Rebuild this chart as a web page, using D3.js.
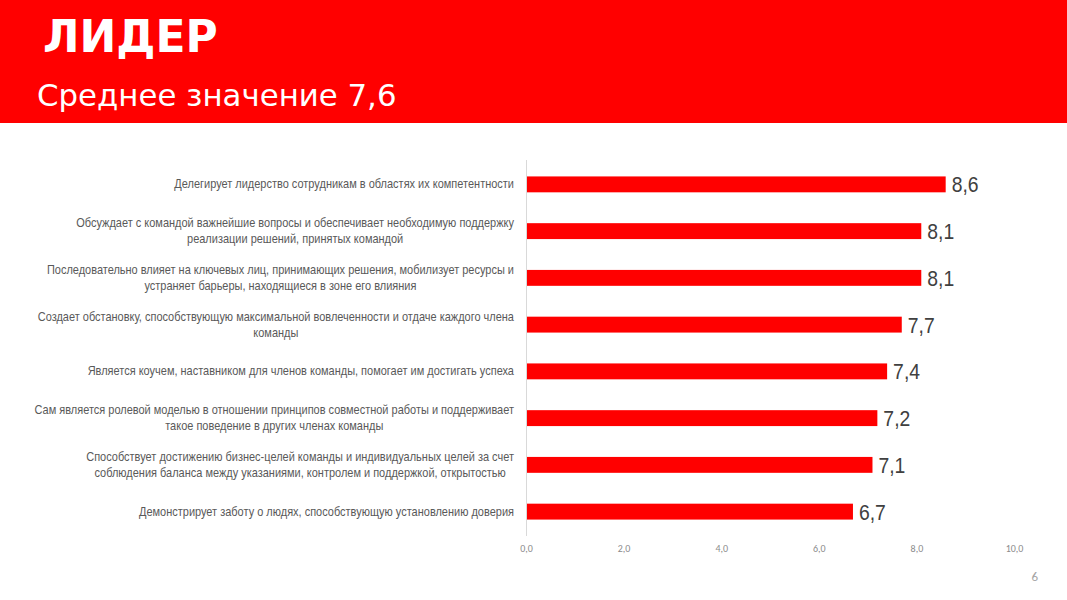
<!DOCTYPE html>
<html><head><meta charset="utf-8">
<script src="https://cdn.jsdelivr.net/npm/d3@7"></script>
<style>body{margin:0;background:#fff}svg{display:block}</style>
</head><body>
<script>
const categories = [
  ["Делегирует лидерство сотрудникам в областях их компетентности"],
  ["Обсуждает с командой важнейшие вопросы и обеспечивает необходимую поддержку", "реализации решений, принятых командой"],
  ["Последовательно влияет на ключевых лиц, принимающих решения, мобилизует ресурсы и", "устраняет барьеры, находящиеся в зоне его влияния"],
  ["Создает обстановку, способствующую максимальной вовлеченности и отдаче каждого члена", "команды"],
  ["Является коучем, наставником для членов команды, помогает им достигать успеха"],
  ["Сам является ролевой моделью в отношении принципов совместной работы и поддерживает", "такое поведение в других членах команды"],
  ["Способствует достижению бизнес-целей команды и индивидуальных целей за счет", "соблюдения баланса между указаниями, контролем и поддержкой, открытостью"],
  ["Демонстрирует заботу о людях, способствующую установлению доверия"]
];
const values = [8.6, 8.1, 8.1, 7.7, 7.4, 7.2, 7.1, 6.7];
const xTicks = [0, 2, 4, 6, 8, 10];
const title = "ЛИДЕР";
const subtitle = "Среднее значение 7,6";
const pageNum = "6";

const W = 1067, H = 600;
const svg = d3.select("body").append("svg").attr("width", W).attr("height", H);

svg.append("rect").attr("x",0).attr("y",0).attr("width",W).attr("height",123).attr("fill","#ff0000");
svg.append("text").attr("x",43).attr("y",52).text(title)
  .attr("fill","#fff").attr("font-family","DejaVu Sans, Verdana, sans-serif").attr("font-weight","bold").attr("font-size",44);
svg.append("text").attr("x",37).attr("y",106).text(subtitle)
  .attr("fill","#fff").attr("font-family","DejaVu Sans, Verdana, sans-serif").attr("font-size",30.8);

const x = d3.scaleLinear().domain([0,10]).range([526,1014]);
const y = d3.scaleBand().domain(d3.range(values.length)).range([161,535]).paddingInner(0.66).paddingOuter(0.33);

const fmt = v => d3.format(".1f")(v).replace(".", ",");
const narrow = "'Liberation Sans Narrow', 'Arial Narrow', 'Liberation Sans', Arial, sans-serif";

// axis line
svg.append("line").attr("x1",x(0)+0.5).attr("x2",x(0)+0.5).attr("y1",160).attr("y2",536)
  .attr("stroke","#d9d9d9").attr("stroke-width",1);

const xAxis = d3.axisBottom(x).tickValues(xTicks).tickSize(0).tickFormat(fmt);
const gx = svg.append("g").attr("transform","translate(0,542)").call(xAxis);
gx.select(".domain").remove();
gx.selectAll("text").attr("fill","#8c8c8c").attr("font-family","Carlito, Calibri, 'Liberation Sans', sans-serif").attr("font-size",10);

svg.append("g").selectAll("rect").data(values).join("rect")
  .attr("x", x(0)+1).attr("y",(d,i)=>y(i)).attr("width",d=>x(d)-x(0)-1).attr("height",y.bandwidth())
  .attr("fill","#ff0000");

svg.append("g").selectAll("text").data(values).join("text")
  .attr("transform",(d,i)=>`translate(${x(d)+6},${y(i)+y.bandwidth()/2+8}) scale(0.88,1)`)
  .text(fmt).attr("fill","#404040")
  .attr("font-family",narrow).attr("font-size",22);

const SX = 0.915;
const lg = svg.append("g");
categories.forEach((lines,i)=>{
  const cy = y(i)+y.bandwidth()/2;
  const n = lines.length, lh = 16;
  const nodes = lines.map((ln,j)=> lg.append("text")
      .attr("text-anchor","middle").text(ln).attr("fill","#595959")
      .attr("font-family",narrow).attr("font-size",12));
  const maxW = d3.max(nodes, t=>t.node().getComputedTextLength()) * SX;
  const cx = 514 - maxW/2;
  nodes.forEach((t,j)=>{
    t.attr("transform",`translate(${cx},${cy + (j-(n-1)/2)*lh + 4}) scale(${SX},1)`);
  });
});

svg.append("text").attr("x",1038).attr("y",581).attr("text-anchor","end").text(pageNum)
  .attr("fill","#a6a6a6").attr("font-family","Carlito, Calibri, 'Liberation Sans', sans-serif").attr("font-size",13);
</script>
</body></html>
